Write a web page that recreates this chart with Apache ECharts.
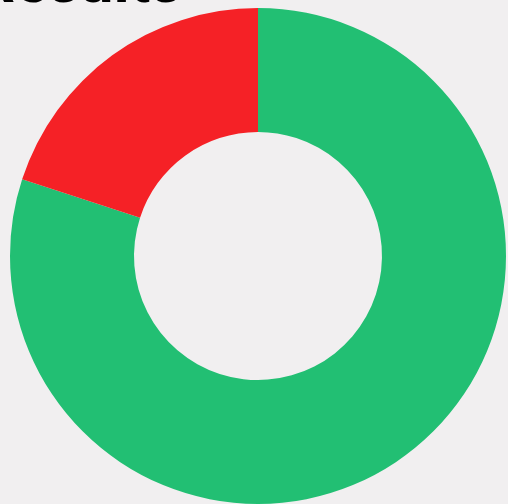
<!DOCTYPE html>
<html>
<head>
<meta charset="utf-8">
<script src="https://cdn.jsdelivr.net/npm/echarts@6/dist/echarts.min.js"></script>
<style>
  html, body { margin: 0; padding: 0; background: #f1eff0; }
  #main { width: 508px; height: 504px; }
</style>
</head>
<body>
<div id="main"></div>
<script>
// 数据
var categories = ['Pass', 'Fail'];
var values = [80, 20];
var colors = ['#22bf73', '#f52126'];

var myChart = echarts.init(document.getElementById('main'));
var option = {
    backgroundColor: '#f1eff0',
    animation: false,
    graphic: [{
        type: 'text',
        left: -24,
        top: -44,
        style: {
            text: 'Results',
            font: 'bold 61px Roboto, sans-serif',
            fill: '#000'
        }
    }],
    series: [{
        type: 'pie',
        center: [258, 256],
        radius: [124, 248],
        startAngle: 90,
        clockwise: true,
        silent: true,
        label: { show: false },
        labelLine: { show: false },
        data: categories.map(function (name, i) {
            return { name: name, value: values[i], itemStyle: { color: colors[i] } };
        })
    }]
};
myChart.setOption(option);
window.onresize = myChart.resize;
</script>
</body>
</html>
